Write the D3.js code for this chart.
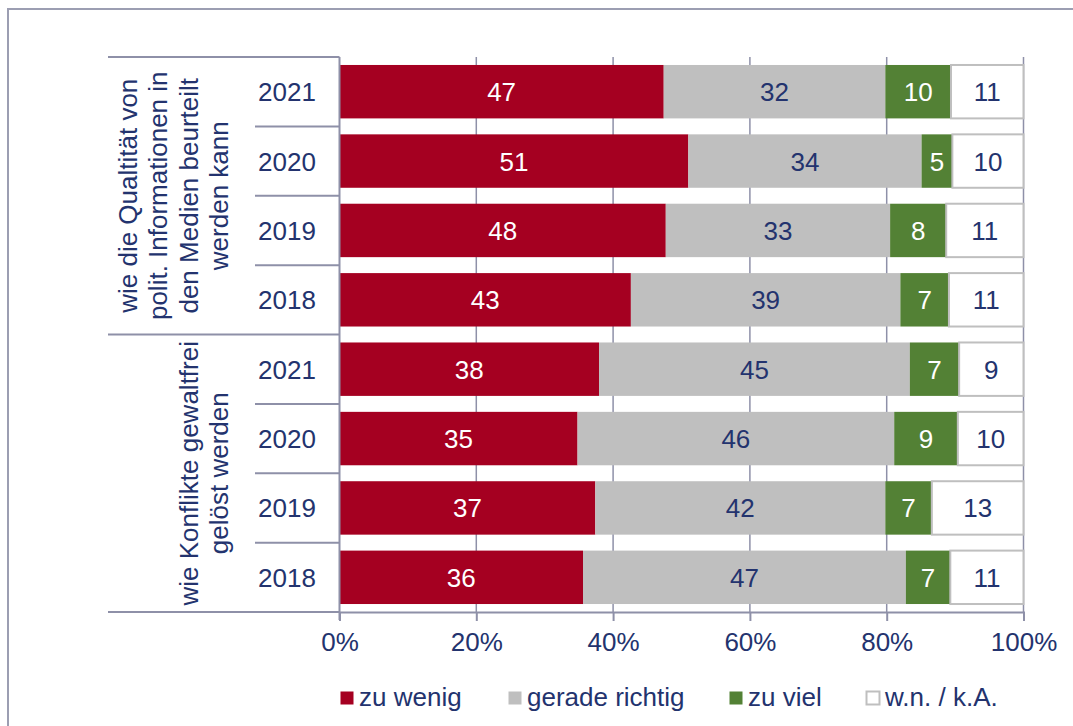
<!DOCTYPE html>
<html>
<head>
<meta charset="utf-8">
<script src="https://cdn.jsdelivr.net/npm/d3@7"></script>
<style>
  html, body { margin: 0; padding: 0; background: #fff; }
  svg { display: block; font-family: "Liberation Sans", Arial, sans-serif; }
</style>
</head>
<body>
<svg width="1073" height="726"></svg>
<script>
// data (shares in %; labels are rounded)
var groupLabels = [
    ["wie die Qualtität von", "polit. Informationen in", "den Medien beurteilt", "werden kann"],
    ["wie Konflikte gewaltfrei", "gelöst werden"]
];
var years = ["2021", "2020", "2019", "2018"];
var series = ["zu wenig", "gerade richtig", "zu viel", "w.n. / k.A."];
var zuWenig = [47.4, 51.0, 47.7, 42.6, 37.9, 34.8, 37.4, 35.6];
var geradeRichtig = [32.4, 34.1, 32.8, 39.4, 45.4, 46.3, 42.4, 47.2];
var zuViel = [9.6, 4.5, 8.2, 7.1, 7.2, 9.3, 6.8, 6.5];
var wnKa = [10.6, 10.4, 11.3, 10.9, 9.4, 9.6, 13.4, 10.7];
var xTicks = [0, 0.2, 0.4, 0.6, 0.8, 1];

var colors = ["#a50021", "#bfbfbf", "#538135", "#ffffff"];
var labelColors = ["#ffffff", "#23336e", "#ffffff", "#23336e"];
var navy = "#23336e", axisColor = "#8e90a8";
var fs = 26;

var svg = d3.select("svg"),
    width = +svg.attr("width"),
    height = +svg.attr("height");

// outer frame (right/bottom edges run off the picture)
svg.append("rect")
    .attr("x", 8).attr("y", 9)
    .attr("width", 1100).attr("height", 800)
    .attr("fill", "none")
    .attr("stroke", "#9c9eb2")
    .attr("stroke-width", 2);

var rows = d3.range(8);
var rowData = rows.map(function (i) {
    var vals = [zuWenig[i], geradeRichtig[i], zuViel[i], wnKa[i]];
    var total = d3.sum(vals), acc = 0;
    return vals.map(function (v, k) {
        var s = { row: i, k: k, value: v, x0: acc / total, x1: (acc + v) / total };
        acc += v;
        return s;
    });
});

var plotTop = 57, plotBottom = 612;
var x = d3.scaleLinear().domain([0, 1]).range([339.5, 1023.5]);
var y = d3.scaleBand().domain(rows).range([plotTop, plotBottom]).paddingInner(0.23).paddingOuter(0.115);
var step = (plotBottom - plotTop) / rows.length;

// gridlines
svg.append("g").selectAll("line")
    .data(xTicks.slice(1))
    .enter().append("line")
    .attr("x1", function (d) { return x(d); })
    .attr("x2", function (d) { return x(d); })
    .attr("y1", plotTop).attr("y2", plotBottom)
    .attr("stroke", axisColor).attr("stroke-width", 1.5);

// bars
var segs = svg.append("g").selectAll("g")
    .data(rowData)
    .enter().append("g")
    .selectAll("g")
    .data(function (d) { return d; })
    .enter().append("g");

segs.append("rect")
    .attr("x", function (d) { return x(d.x0); })
    .attr("y", function (d) { return y(d.row); })
    .attr("width", function (d) { return x(d.x1) - x(d.x0); })
    .attr("height", y.bandwidth())
    .attr("fill", function (d) { return colors[d.k]; })
    .attr("stroke", function (d) { return d.k === 3 ? "#bfbfbf" : "none"; })
    .attr("stroke-width", 2);

segs.append("text")
    .attr("x", function (d) { return (x(d.x0) + x(d.x1)) / 2; })
    .attr("y", function (d) { return y(d.row) + y.bandwidth() / 2 + 9.5; })
    .attr("text-anchor", "middle")
    .attr("font-size", fs)
    .attr("fill", function (d) { return labelColors[d.k]; })
    .text(function (d) { return Math.round(d.value); });

// category axis
var axisG = svg.append("g").attr("stroke", axisColor).attr("stroke-width", 2);
axisG.append("line")
    .attr("x1", x(0)).attr("x2", x(0))
    .attr("y1", plotTop).attr("y2", plotBottom + 8);
axisG.selectAll("line.sep")
    .data(d3.range(9))
    .enter().append("line")
    .attr("class", "sep")
    .attr("x1", function (k) { return k % 4 === 0 ? 108 : 255; })
    .attr("x2", x(0))
    .attr("y1", function (k) { return plotTop + k * step; })
    .attr("y2", function (k) { return plotTop + k * step; });

svg.append("g").selectAll("text")
    .data(rows)
    .enter().append("text")
    .attr("x", 287)
    .attr("y", function (i) { return y(i) + y.bandwidth() / 2 + 9.5; })
    .attr("text-anchor", "middle")
    .attr("font-size", fs)
    .attr("fill", navy)
    .text(function (i) { return years[i % 4]; });

// group labels
groupLabels.forEach(function (lines, g) {
    var cy = plotTop + (g * 4 + 2) * step;
    var n = lines.length;
    var t = svg.append("text")
        .attr("transform", "translate(0," + cy + ") rotate(-90)")
        .attr("text-anchor", "middle")
        .attr("font-size", fs)
        .attr("fill", navy);
    lines.forEach(function (line, i) {
        t.append("tspan")
            .attr("x", 0)
            .attr("y", 228 - (n - 1 - i) * 30.5)
            .text(line);
    });
});

// value axis
svg.append("g")
    .attr("transform", "translate(0," + plotBottom + ")")
    .call(d3.axisBottom(x).tickValues(xTicks).tickSize(9).tickPadding(12).tickFormat(d3.format(".0%")))
    .call(function (g) {
        g.select(".domain").attr("stroke", axisColor).attr("stroke-width", 2);
        g.selectAll(".tick line").attr("stroke", axisColor).attr("stroke-width", 2);
        g.selectAll(".tick text")
            .attr("font-size", fs)
            .attr("font-family", "Liberation Sans, Arial, sans-serif")
            .attr("fill", navy);
    });

// legend
var legendX = [340, 508, 729, 866];
var legend = svg.append("g").selectAll("g")
    .data(series)
    .enter().append("g")
    .attr("transform", function (d, i) { return "translate(" + legendX[i] + ",691)"; });
legend.append("rect")
    .attr("x", 0.5).attr("y", 0.5)
    .attr("width", 13).attr("height", 13)
    .attr("fill", function (d, i) { return colors[i]; })
    .attr("stroke", function (d, i) { return i === 3 ? "#bfbfbf" : "none"; })
    .attr("stroke-width", 2);
legend.append("text")
    .attr("x", 19).attr("y", 15)
    .attr("font-size", fs)
    .attr("fill", navy)
    .text(function (d) { return d; });
</script>
</body>
</html>
